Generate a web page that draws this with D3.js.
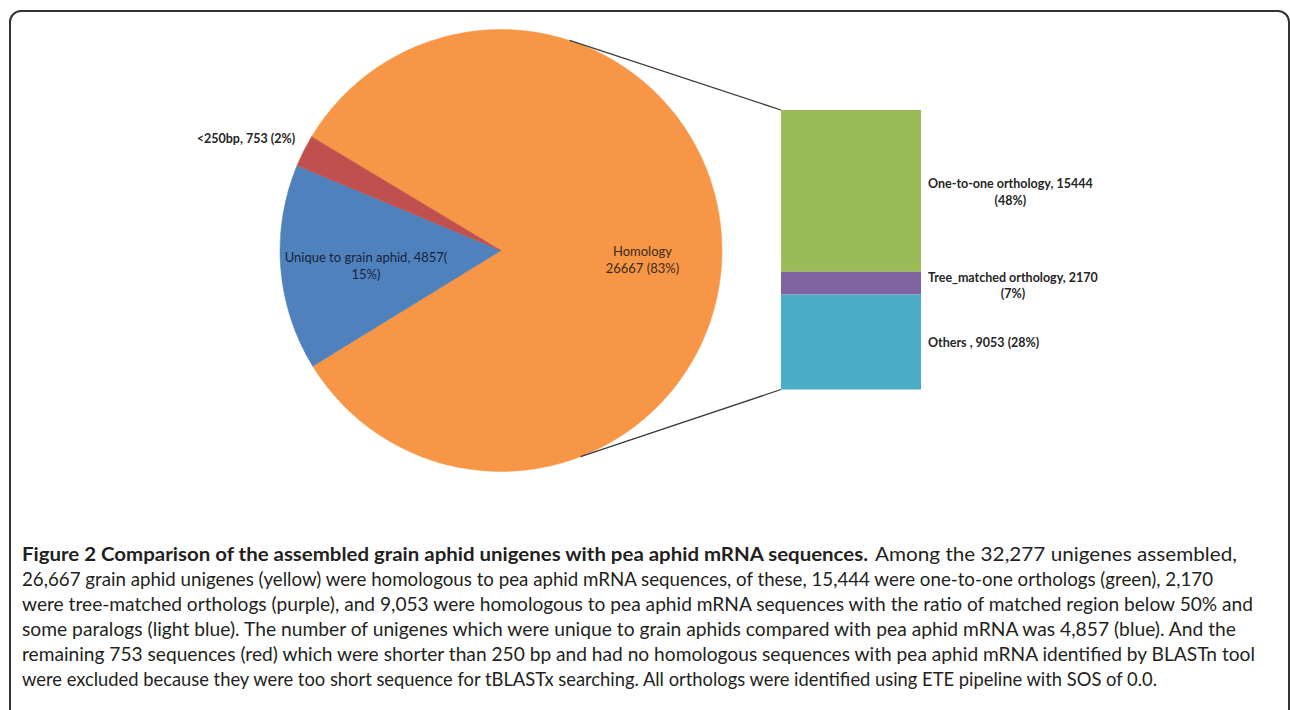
<!DOCTYPE html>
<html>
<head>
<meta charset="utf-8">
<script src="https://cdn.jsdelivr.net/npm/d3@7/dist/d3.min.js"></script>
<style>
  html, body { margin: 0; padding: 0; background: #fff; }
  svg { display: block; }
</style>
</head>
<body>
<svg id="fig" width="1290" height="710"></svg>
<script>
// Pie: all assembled unigenes
const pieCategories = ["Homology", "Unique to grain aphid", "<250bp"];
const pieValues = [26667, 4857, 753];
const pieLabels = [
  ["Homology", "26667 (83%)"],
  ["Unique to grain aphid, 4857(", "15%)"],
  ["<250bp, 753 (2%)"]
];
const pieColors = ["#F79646", "#4F81BD", "#C0504D"];

// Stacked bar: breakdown of the Homology slice
const barCategories = ["One-to-one orthology", "Tree_matched orthology", "Others"];
const barValues = [15444, 2170, 9053];
const barLabels = [
  ["One-to-one orthology, 15444", "(48%)"],
  ["Tree_matched orthology, 2170", "(7%)"],
  ["Others , 9053 (28%)"]
];
const barColors = ["#9BBB59", "#8064A2", "#4BACC6"];

// Caption
const captionTitle = "Figure 2 Comparison of the assembled grain aphid unigenes with pea aphid mRNA sequences.";
const captionLines = [
  "Among the 32,277 unigenes assembled,",
  "26,667 grain aphid unigenes (yellow) were homologous to pea aphid mRNA sequences, of these, 15,444 were one-to-one orthologs (green), 2,170",
  "were tree-matched orthologs (purple), and 9,053 were homologous to pea aphid mRNA sequences with the ratio of matched region below 50% and",
  "some paralogs (light blue). The number of unigenes which were unique to grain aphids compared with pea aphid mRNA was 4,857 (blue). And the",
  "remaining 753 sequences (red) which were shorter than 250 bp and had no homologous sequences with pea aphid mRNA identified by BLASTn tool",
  "were excluded because they were too short sequence for tBLASTx searching. All orthologs were identified using ETE pipeline with SOS of 0.0."
];

const svg = d3.select("#fig");
const deg = Math.PI / 180;

// Frame around the figure
svg.append("rect")
  .attr("x", 10).attr("y", 11)
  .attr("width", 1279).attr("height", 760)
  .attr("rx", 11).attr("ry", 11)
  .attr("fill", "none").attr("stroke", "#333").attr("stroke-width", 2);

// ---- Pie ----
const cx = 501, cy = 250.5, R = 221;
const startA = 301 * deg;
const pie = d3.pie().sort(null).value(d => d).startAngle(startA).endAngle(startA + 2 * Math.PI);
const arcs = pie(pieValues);
const arc = d3.arc().innerRadius(0).outerRadius(R);
const labelArc = d3.arc().innerRadius(R * 0.64).outerRadius(R * 0.64);

const gPie = svg.append("g").attr("transform", `translate(${cx},${cy})`);
gPie.selectAll("path.slice").data(arcs).join("path")
  .attr("class", "slice")
  .attr("d", arc)
  .attr("fill", (d, i) => pieColors[i])
  .attr("stroke", (d, i) => pieColors[i])
  .attr("stroke-width", 0.5);

// ---- Bar of pie ----
const barX = 781, barW = 140;
const y = d3.scaleLinear().domain([0, d3.sum(barValues)]).range([110, 389.5]);
const stack = [];
let acc = 0;
barValues.forEach((v, i) => { stack.push({ i, y0: acc, y1: acc + v }); acc += v; });

const gBar = svg.append("g");
gBar.selectAll("rect").data(stack).join("rect")
  .attr("x", barX).attr("width", barW)
  .attr("y", d => y(d.y0))
  .attr("height", d => y(d.y1) - y(d.y0))
  .attr("fill", d => barColors[d.i]);

// Connector lines from pie rim to bar corners
const connA = [18.1 * deg, 158.9 * deg];
const rimPt = a => [cx + R * Math.sin(a), cy - R * Math.cos(a)];
[[rimPt(connA[0]), [barX, y(0)]], [rimPt(connA[1]), [barX, y(d3.sum(barValues))]]].forEach(seg => {
  svg.append("line")
    .attr("x1", seg[0][0]).attr("y1", seg[0][1])
    .attr("x2", seg[1][0]).attr("y2", seg[1][1])
    .attr("stroke", "#3a3a3a").attr("stroke-width", 1.3);
});

// ---- Labels ----
const labFont = "Lato, 'Open Sans', sans-serif";

// multi-line label: first line anchored as given, following lines centred under it
function multiLabel(g, lines, x, yMid, anchor, opts) {
  const lh = opts.lh;
  const top = yMid - (lines.length - 1) * lh / 2;
  const t0 = g.append("text")
    .attr("x", x).attr("y", top).attr("dy", "0.35em")
    .attr("text-anchor", anchor)
    .attr("font-family", labFont).attr("font-size", opts.size)
    .attr("font-weight", opts.weight).attr("fill", opts.fill)
    .text(lines[0]);
  const w = t0.node().getComputedTextLength();
  let xc = anchor === "start" ? x + w / 2 : anchor === "end" ? x - w / 2 : x;
  lines.slice(1).forEach((ln, k) => {
    g.append("text")
      .attr("x", xc).attr("y", top + (k + 1) * lh).attr("dy", "0.35em")
      .attr("text-anchor", "middle")
      .attr("font-family", labFont).attr("font-size", opts.size)
      .attr("font-weight", opts.weight).attr("fill", opts.fill)
      .text(ln);
  });
}

// Homology and unique labels inside their slices
const inLabelShift = [[0, 10], [6, 4]];
[0, 1].forEach(i => {
  const c = labelArc.centroid(arcs[i]);
  multiLabel(svg, pieLabels[i], cx + c[0] + inLabelShift[i][0], cy + c[1] + inLabelShift[i][1], "middle",
    { size: 13, weight: 400, fill: i === 0 ? "#3a2a1c" : "#17243d", lh: 17 });
});
// Small slice label sits outside the rim
{
  const p = rimPt(arcs[2].startAngle + (arcs[2].endAngle - arcs[2].startAngle) * 0.85);
  multiLabel(svg, pieLabels[2], p[0] - 14, p[1] - 2, "end",
    { size: 12.5, weight: 700, fill: "#262626", lh: 16 });
}

// Bar segment labels
stack.forEach(d => {
  const ym = (y(d.y0) + y(d.y1)) / 2 + (d.i === 1 ? 2.5 : 1);
  multiLabel(svg, barLabels[d.i], barX + barW + 7, ym, "start",
    { size: 12.5, weight: 700, fill: "#262626", lh: 16.5 });
});

// ---- Caption ----
const capFont = "Lato, 'Open Sans', sans-serif";
const capX = 22, capY0 = 561, capLH = 25;
const capRight = [1237, 1213, 1253, 1236, 1255, 1157];
const titleRight = 868, line1Start = 875;

svg.append("text")
  .attr("x", capX).attr("y", capY0)
  .attr("font-family", capFont).attr("font-size", 19).attr("font-weight", 700)
  .attr("fill", "#231f20")
  .attr("textLength", titleRight - capX).attr("lengthAdjust", "spacingAndGlyphs")
  .text(captionTitle);

captionLines.forEach((ln, i) => {
  const x0 = i === 0 ? line1Start : capX;
  svg.append("text")
    .attr("x", x0).attr("y", capY0 + i * capLH)
    .attr("font-family", capFont).attr("font-size", 19).attr("font-weight", 400)
    .attr("fill", "#231f20")
    .attr("textLength", capRight[i] - x0)
    .attr("lengthAdjust", "spacingAndGlyphs")
    .text(ln);
});
</script>
</body>
</html>
